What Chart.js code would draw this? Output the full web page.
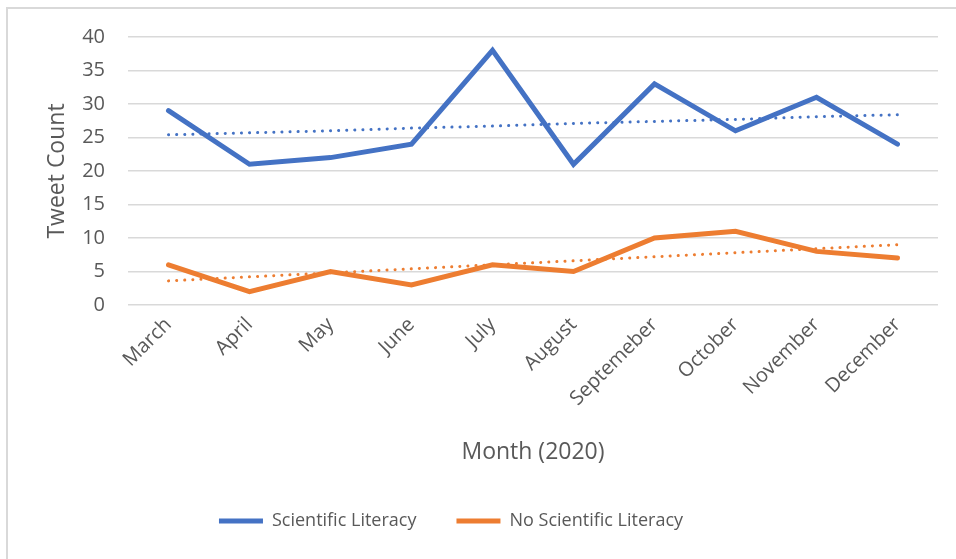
<!DOCTYPE html>
<html><head><meta charset="utf-8">
<script src="https://cdn.jsdelivr.net/npm/chart.js@4/dist/chart.umd.min.js"></script>
<style>
html,body{margin:0;padding:0;background:#fff;}
#wrap{position:relative;width:956px;height:559px;}
#frame{position:absolute;left:6px;top:7px;width:960px;height:560px;border-left:2px solid #d9d9d9;border-top:2px solid #d9d9d9;pointer-events:none;}
canvas{position:absolute;left:0;top:0;}
</style></head>
<body><div id="wrap"><canvas id="c" width="956" height="559"></canvas><div id="frame"></div></div>
<script>
const months = ["March","April","May","June","July","August","Septemeber","October","November","December"];
const sciLit = [29,21,22,24,38,21,33,26,31,24];
const noSciLit = [6,2,5,3,6,5,10,11,8,7];
const sciTrend = [25.4,25.7,26.0,26.4,26.7,27.1,27.4,27.7,28.1,28.4];
const noSciTrend = [3.6,4.2,4.8,5.4,6.0,6.6,7.2,7.8,8.4,9.0];
const yTicks = [0,5,10,15,20,25,30,35,40];

const BLUE = '#4472C4', ORANGE = '#ED7D31', TXT = '#595959';
const FONT = "'Open Sans', 'Segoe UI', sans-serif";

const legendShift = {
  id:'legendShift',
  afterLayout(chart){
    const lg = chart.legend;
    if (lg){ lg.left -= 40; lg.right -= 40; }
  }
};

new Chart(document.getElementById('c'), {
  type: 'line',
  data: {
    labels: months,
    datasets: [
      {label:'Scientific Literacy', data:sciLit, borderColor:BLUE, backgroundColor:BLUE, borderWidth:5, pointRadius:0, borderCapStyle:'round', borderJoinStyle:'miter', tension:0, order:1},
      {label:'No Scientific Literacy', data:noSciLit, borderColor:ORANGE, backgroundColor:ORANGE, borderWidth:5, pointRadius:0, borderCapStyle:'round', borderJoinStyle:'miter', tension:0, order:2},
      {label:'trend1', data:sciTrend, borderColor:BLUE, borderWidth:3, borderDash:[0.1,8], borderCapStyle:'round', pointRadius:0, tension:0, order:3},
      {label:'trend2', data:noSciTrend, borderColor:ORANGE, borderWidth:3, borderDash:[0.1,8], borderCapStyle:'round', pointRadius:0, tension:0, order:4}
    ]
  },
  options: {
    responsive:false, animation:false,
    layout:{padding:{left:44,right:18,top:37,bottom:19}},
    plugins:{
      tooltip:{enabled:false},
      legend:{
        position:'bottom',
        labels:{
          filter:(item)=>item.text.indexOf('trend')!==0,
          usePointStyle:true, pointStyle:'line', pointStyleWidth:44,
          color:TXT, font:{family:FONT,size:18}, padding:40
        }
      }
    },
    scales:{
      x:{
        offset:true,
        grid:{display:false, drawTicks:false},
        border:{display:false},
        ticks:{color:TXT, font:{family:FONT,size:20}, maxRotation:45, minRotation:45, padding:8, autoSkip:false},
        title:{display:true, text:'Month (2020)', color:TXT, font:{family:FONT,size:23}, padding:{top:0,bottom:6}},
        afterFit:(s)=>{s.height=167;}
      },
      y:{
        min:0, max:40,
        afterBuildTicks:(s)=>{s.ticks = yTicks.map(v=>({value:v}));},
        grid:{color:'#d9d9d9', lineWidth:1.5, drawTicks:false},
        border:{display:false},
        ticks:{color:TXT, font:{family:FONT,size:20}, padding:23},
        title:{display:true, text:'Tweet Count', color:TXT, font:{family:FONT,size:23}, padding:{top:0,bottom:0}},
        afterFit:(s)=>{s.width=84;}
      }
    }
  },
  plugins:[legendShift]
});
</script></body></html>
